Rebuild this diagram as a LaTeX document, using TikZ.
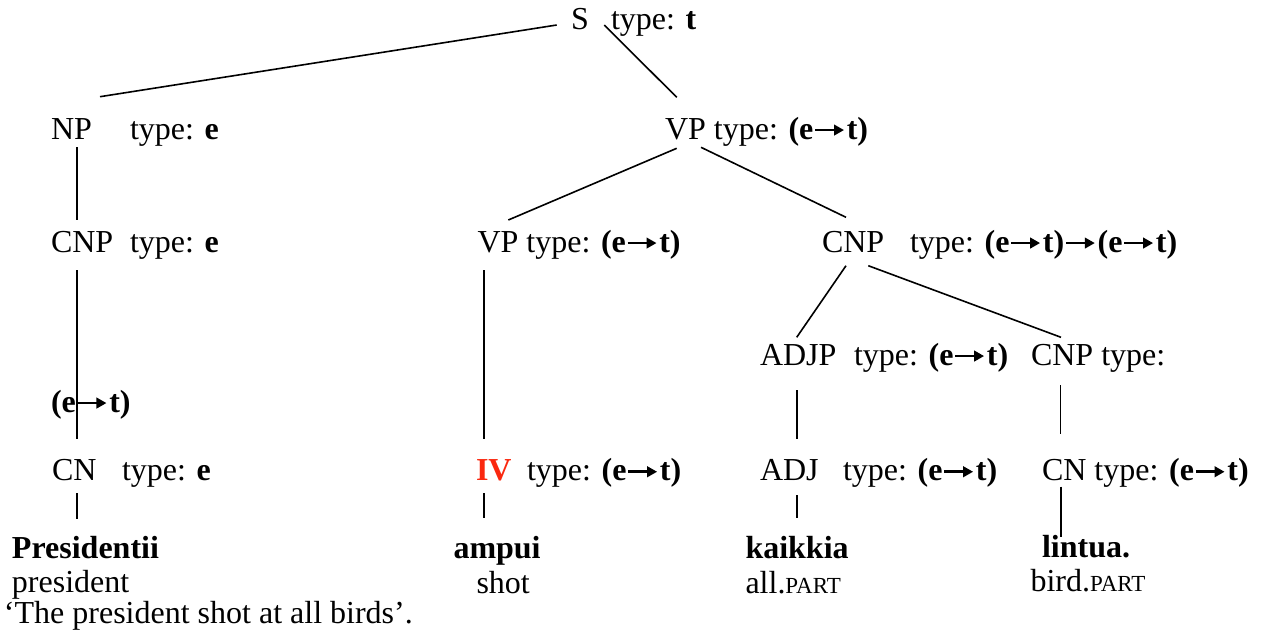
\documentclass[tikz,border=0pt]{standalone}
\usepackage{fontspec}
\usetikzlibrary{arrows.meta}
\setmainfont{Liberation Serif}
\definecolor{ivred}{RGB}{250,40,15}
\newcommand\harr{\kern0.5pt\tikz[baseline=0pt]\draw[line width=2.6pt,-{Triangle[length=10pt,width=10.5pt]}] (0,0.28em) -- (0.9em,0.28em);\kern1.5pt}
\newcommand\eTOt{\textbf{(e\harr t)}}
\newcommand\glossSC[1]{{\fontsize{23}{26}\selectfont #1}}
\begin{document}
\begin{tikzpicture}[x=1pt,y=1pt,
  lab/.style={anchor=base west,inner sep=0pt,outer sep=0pt,font=\fontsize{32}{38}\selectfont},
  edge/.style={line width=1.6pt}]
\useasboundingbox (0,0) rectangle (1265,-638);
% row 0
\node[lab] (S) at (571,-29.3) {S};
\node[lab] (St) at (611,-29.3) {type: \textbf{t}};
% row 1
\node[lab] (NP) at (51,-139) {NP};
\node[lab] (NPt) at (130,-139) {type: \textbf{e}};
\node[lab] (VP) at (665,-139) {VP type: \eTOt};
% row 2
\node[lab] (CNPa) at (51,-252) {CNP};
\node[lab] (CNPat) at (130,-252) {type: \textbf{e}};
\node[lab] (VPb) at (477.5,-252) {VP type: \eTOt};
\node[lab] (CNPb) at (822,-252) {CNP};
\node[lab] (CNPbt) at (910,-252) {type: \eTOt\harr\eTOt};
% row 3
\node[lab] (ADJP) at (760,-365) {ADJP};
\node[lab] (ADJPt) at (854,-365) {type: \eTOt};
\node[lab] (CNPc) at (1031,-365) {CNP type:};
\node[lab] (CNPat2) at (51,-412) {\eTOt};
% row 4
\node[lab] (CN) at (52,-480.7) {CN};
\node[lab] (CNt) at (122,-480.7) {type: \textbf{e}};
\node[lab,text=ivred] (IV) at (476,-480.7) {\textbf{IV}};
\node[lab] (IVt) at (527,-480.7) {type: \eTOt};
\node[lab] (ADJ) at (760,-480.7) {ADJ};
\node[lab] (ADJt) at (843,-480.7) {type: \eTOt};
\node[lab] (CNb) at (1042,-480.7) {CN type: \eTOt};
% words
\node[lab] (w1) at (12,-558.5) {\textbf{Presidentii}};
\node[lab] (w2) at (453.5,-558) {\textbf{ampui}};
\node[lab] (w3) at (745.5,-558.3) {\textbf{kaikkia}};
\node[lab] (w4) at (1042,-557) {\textbf{lintua.}};
% glosses
\node[lab] (g1) at (12,-592) {president};
\node[lab] (g2) at (476.5,-593) {shot};
\node[lab] (g3) at (745.5,-593) {all.\glossSC{PART}};
\node[lab] (g4) at (1030.5,-591) {bird.\glossSC{PART}};
\node[lab] (tr) at (4,-623.3) {‘The president shot at all birds’.};
% connector end points
\coordinate (sL) at (556.7,-25);
\coordinate (npT) at (100,-96.7);
\coordinate (sR) at (604.3,-25);
\coordinate (vpT) at (676.7,-97.3);
\coordinate (npB) at (76.7,-147.3);
\coordinate (cnpaT) at (76.7,-220);
\coordinate (cnpaB) at (76.7,-270);
\coordinate (cnT) at (76.7,-439.3);
\coordinate (cnB) at (76.7,-493);
\coordinate (w1T) at (76.7,-519);
\coordinate (vpBL) at (676.7,-148.3);
\coordinate (vpbT) at (508.3,-220);
\coordinate (vpBR) at (701,-147.3);
\coordinate (cnpbT) at (846,-217.3);
\coordinate (vpbB) at (484,-270);
\coordinate (ivT) at (484,-439.3);
\coordinate (ivB) at (484,-493);
\coordinate (w2T) at (484,-518);
\coordinate (cnpbBL) at (846,-265.7);
\coordinate (adjpT) at (796.7,-337.3);
\coordinate (cnpbBR) at (868.3,-265.7);
\coordinate (cnpcT) at (1061,-337.3);
\coordinate (adjpB) at (796.7,-390);
\coordinate (adjT) at (796.7,-439.3);
\coordinate (cnpcB) at (1060.5,-385);
\coordinate (cnbT) at (1060.5,-434);
\coordinate (adjB) at (796.7,-495);
\coordinate (w3T) at (796.7,-518.3);
\coordinate (cnbB) at (1060.7,-486.7);
\coordinate (w4T) at (1060.7,-536.7);
% connectors
\draw[edge] (sL) -- (npT);
\draw[edge] (sR) -- (vpT);
\draw[edge] (npB) -- (cnpaT);
\draw[edge] (cnpaB) -- (cnT);
\draw[edge] (cnB) -- (w1T);
\draw[edge] (vpBL) -- (vpbT);
\draw[edge] (vpBR) -- (cnpbT);
\draw[edge] (vpbB) -- (ivT);
\draw[edge] (ivB) -- (w2T);
\draw[edge] (cnpbBL) -- (adjpT);
\draw[edge] (cnpbBR) -- (cnpcT);
\draw[edge] (adjpB) -- (adjT);
\draw[edge] (cnpcB) -- (cnbT);
\draw[edge] (adjB) -- (w3T);
\draw[edge] (cnbB) -- (w4T);
\end{tikzpicture}
\end{document}
